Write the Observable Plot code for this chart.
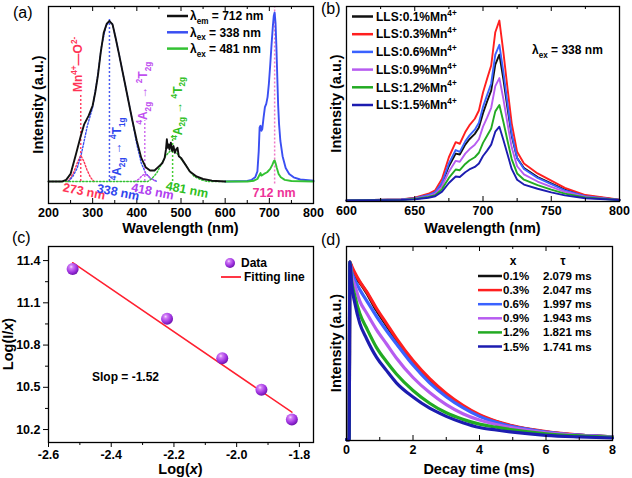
<!DOCTYPE html>
<html><head><meta charset="utf-8">
<script src="https://cdn.jsdelivr.net/npm/d3@7"></script>
<script src="https://cdn.jsdelivr.net/npm/@observablehq/plot@0.6"></script>
<style>
html,body{margin:0;padding:0;background:#fff;}
#root{position:relative;width:632px;height:478px;overflow:hidden;background:#fff;}
#root svg{position:absolute;}
</style></head>
<body><div id="root"></div>
<script>
const FONT = '"Liberation Sans", Arial, Helvetica, sans-serif';

// ===== Panel (a): excitation (black) and emission spectra =====
const excWave = [200,230,240,250,262,273,281,291,300,306,312,318,325,332,338,345,352,360,370,380,390,400,410,420,430,440,450,458,463,466,468,470,472,474,477,480,483,486,489,492,495,500,510,520,535,550,570,600];
const excInt  = [0,0,1,4.5,16,27,34,39,45,53,63,76,88,93.5,95,93,85,75,62,49,36,24,14,8.5,6.5,6.5,9,11,14,19,25,20,22,19,23,18,21,17,19,20,15,14,10,6,3,1.5,0.5,0];
const em338Wave = [600,650,660,668,673,676,678,680,682,684,687,690,693,696,699,702,705,708,710,712,714,716,718,720,722,725,730,737,745,755,770,800];
const em338Int  = [0,0.3,1,2.5,6,18,32,33,30,31,38,44,46,50,58,69,81,92,98,100,94,80,62,45,34,24,15,8,4.5,2.5,1.2,0.5];
const em481Wave = [600,650,665,673,678,680,682,688,695,702,707,710,712,714,717,721,726,735,750,800];
const em481Int  = [0,0,0.5,1.5,4,5,3.5,4.5,5.5,7.5,10,12,12.5,11,8,4.5,2.5,1,0.3,0];
// Gaussian components (dotted)
const g273Wave = [243,250,258,265,273,280,287,295,303];
const g273Int  = [0,2,6,11,15.5,12,7,2.5,0];
const g338Wave = [245,255,265,275,288,300,310,320,330,338,345,352,360,370,380,390,400,410,420,430,446];
const g338Int  = [0,3,8,17,33,44,60,80,92,95,93,85,75,62,49,36,22,11,5,2,0];
const g418Wave = [395,405,412,418,425,433,445];
const g418Int  = [0,1.5,3.5,4.5,3.5,1.5,0];
const g481Wave = [200,425,435,445,455,465,475,481,490,500,510,520,530,545,560,600];
const g481Int  = [0,0,2,5,10,15,18,19,17,13.5,10,6,3,1,0,0];
const peakWave = [273,338,418,481,712];
const peakTop  = [52,96,36,28,103.6];
const peakLabels = ["273 nm","338 nm","418 nm","481 nm","712 nm"];
const aTicks = [200,300,400,500,600,700,800];
const aMinor = [250,350,450,550,650,750];

// ===== Panel (b): emission vs Mn4+ concentration =====
const bWave = [600,640,650,660,665,670,675,680,683,687,690,694,697,700,703,706,709,712,715,718,721,725,730,740,750,760,775,800];
const b01 = [0,0.5,1.1,2.8,4.3,9.5,19,26,25.5,31,34,37,40.5,48.5,55,61,75.5,81,67,51,36,23.5,18,13,9.5,6,2.6,0.3];
const b03 = [0,0.6,1.5,3.7,5.6,12,24,32.4,31.5,38,41.7,45.4,50,60,67.6,75,93.5,100,82,62,43,27,20.5,15,11,7,3,0.4];
const b06 = [0,0.5,1.2,3,4.6,10,20.5,28,27,32.8,36,39.3,43.2,52,58.5,65,81,86.5,71,53.5,37,23.5,17.5,12.5,9,5.6,2.4,0.3];
const b09 = [0,0.4,1,2.4,3.7,8,16,22,21.5,26,28.4,31,34,41,46,51.5,63.5,68,56,42.5,29.5,19,14.5,10.5,7.5,4.8,2,0.3];
const b12 = [0,0.3,0.8,1.9,2.9,6.3,12.5,17.2,16.8,20.3,22.2,24,26.5,32,36,40,49.5,53,43.5,33,23,15,11.5,8.5,6,3.8,1.6,0.2];
const b15 = [0,0.3,0.6,1.5,2.3,4.9,9.7,13.3,13,15.7,17.2,18.6,20.5,24.7,27.7,31,38.2,41,33.5,25.5,17.5,11.5,8.8,6.5,4.5,2.8,1.2,0.2];
const concLabels = ["0.1","0.3","0.6","0.9","1.2","1.5"];
const concColors = ["#111111","#ff1f1f","#3a62ff","#b75cf0","#22aa22","#1c1cb0"];
const bTicks = [600,650,700,750,800];
const bMinor = [625,675,725,775];

// ===== Panel (c): log(I/x) vs log(x) =====
const cLogX = [-2.523,-2.222,-2.046,-1.921,-1.824];
const cLogI = [11.34,10.987,10.707,10.483,10.272];
const fitX = [-2.523,-1.824];
const fitY = [11.385,10.323];
const cXTicks = [-2.6,-2.4,-2.2,-2.0,-1.8];
const cXMinor = [-2.5,-2.3,-2.1,-1.9];
const cYTicks = [10.2,10.5,10.8,11.1,11.4];
const cYMinor = [10.35,10.65,10.95,11.25];

// ===== Panel (d): decay curves =====
const tD = [0,0.08,0.1,0.15,0.25,0.4,0.6,0.9,1.2,1.5,2,2.5,3,3.5,4,4.5,5,6,7,8];
const d01 = [0,0,1,0.97,0.92,0.885,0.83,0.73,0.645,0.56,0.435,0.335,0.253,0.188,0.136,0.10,0.075,0.043,0.025,0.015];
const d03 = [0,0,1,0.98,0.94,0.89,0.835,0.74,0.655,0.57,0.445,0.343,0.26,0.193,0.14,0.104,0.078,0.045,0.026,0.016];
const d06 = [0,0,1,0.95,0.9,0.845,0.785,0.695,0.615,0.54,0.42,0.32,0.242,0.18,0.131,0.097,0.073,0.043,0.025,0.015];
const d09 = [0,0,1,0.93,0.87,0.78,0.715,0.62,0.54,0.46,0.35,0.265,0.197,0.146,0.11,0.085,0.066,0.038,0.024,0.015];
const d12 = [0,0,1,0.9,0.81,0.71,0.63,0.52,0.44,0.37,0.277,0.205,0.151,0.114,0.087,0.07,0.055,0.033,0.021,0.013];
const d15 = [0,0,1,0.88,0.77,0.655,0.57,0.465,0.39,0.32,0.24,0.177,0.131,0.095,0.068,0.054,0.042,0.024,0.015,0.009];
const tauLabels = ["2.079 ms","2.047 ms","1.997 ms","1.943 ms","1.821 ms","1.741 ms"];
const dTicks = [0,2,4,6,8];
const dMinor = [1,3,5,7];

// ---------- helpers ----------
const root = document.getElementById("root");
const rows = (xs, ys) => xs.map((x, i) => ({x, y: ys[i]}));
const baseStyle = {fontFamily: FONT, fontSize: "12.5px", fontWeight: "bold", background: "transparent", overflow: "visible", color: "#000"};
function place(svg, left, top) { svg.style.left = left + "px"; svg.style.top = top + "px"; root.appendChild(svg); return svg; }
function rich(svg, x, y, parts, o = {}) {
  const size = o.size || 12;
  const t = d3.select(svg).append("text")
    .attr("transform", `translate(${x},${y}) rotate(${o.rotate || 0})`)
    .attr("text-anchor", o.anchor || "start")
    .attr("font-family", FONT).attr("font-size", size)
    .attr("font-weight", o.weight || "bold")
    .attr("fill", o.fill || "#000")
    .attr("y", size * 0.35);
  let cur = 0;
  for (const p of parts) {
    const [s, kind, st] = typeof p === "string" ? [p, ""] : p;
    const target = kind === "sub" ? size * 0.32 : kind === "sup" ? -size * 0.42 : 0;
    const ts = t.append("tspan").text(s).attr("dy", target - cur);
    if (kind) ts.attr("font-size", size * 0.68);
    if (st === "i") ts.attr("font-style", "italic");
    cur = target;
  }
  return t;
}
function legendLine(svg, x1, x2, y, color, w = 2.5) {
  d3.select(svg).append("line").attr("x1", x1).attr("x2", x2).attr("y1", y).attr("y2", y)
    .attr("stroke", color).attr("stroke-width", w);
}
const W = 316;

// ---------- Panel (a) ----------
{
  const H = 240, m = {t: 6, r: 3, b: 37, l: 48}, fh = H - m.t - m.b;
  const dot = "1.6,1.8";
  const comps = [[g273Wave, g273Int, "#ff3355"], [g338Wave, g338Int, "#3a4ff2"], [g418Wave, g418Int, "#c050f0"], [g481Wave, g481Int, "#33c233"]];
  const peakCol = ["#ff4466", "#4a5cf0", "#d070f0", "#44cc33", "#f078c8"];
  const p = Plot.plot({
    width: W, height: H, marginTop: m.t, marginRight: m.r, marginBottom: m.b, marginLeft: m.l,
    x: {domain: [200, 800], axis: null}, y: {domain: [-13, 103.6], axis: null},
    style: baseStyle,
    marks: [
      ...comps.map(([w, v, c]) => Plot.line(rows(w, v), {x: "x", y: "y", stroke: c, strokeWidth: 1.4, strokeDasharray: dot})),
      ...peakWave.map((w, i) => Plot.ruleX([w], {y1: i === 4 ? -1.5 : 0, y2: peakTop[i], stroke: peakCol[i], strokeWidth: 1.5, strokeDasharray: "2,2"})),
      Plot.line(rows(em338Wave, em338Int), {x: "x", y: "y", stroke: "#3a4ff2", strokeWidth: 1.9}),
      Plot.line(rows(em481Wave, em481Int), {x: "x", y: "y", stroke: "#33c233", strokeWidth: 1.9}),
      Plot.line(rows(excWave, excInt), {x: "x", y: "y", stroke: "#111", strokeWidth: 1.9}),
      Plot.ruleX(aTicks, {insetTop: fh - 5}), Plot.ruleX(aMinor, {insetTop: fh - 3}),
      Plot.ruleX(aTicks, {insetBottom: fh - 5}), Plot.ruleX(aMinor, {insetBottom: fh - 3}),
      Plot.axisX({ticks: aTicks, tickSize: 0, tickPadding: 5, label: null, tickFormat: d => String(d)}),
      Plot.frame({stroke: "#000", strokeWidth: 1.3})
    ]
  });
  place(p, 0, 0);
  const sx = p.scale("x").apply, sy = p.scale("y").apply;
  const labCol = ["#ff3355", "#2f46ee", "#b040f0", "#2fbf22", "#ee3399"];
  const labPos = [[282, -6], [359, -6.5], [437, -6], [515, -5], [712, -7]];
  peakLabels.forEach((s, i) => rich(p, sx(labPos[i][0]), sy(labPos[i][1]), [s], {fill: labCol[i], anchor: "middle", rotate: i === 4 ? 0 : 11, size: 12.5}));
  rich(p, sx(268.5), sy(69), ["Mn", ["4+", "sup"], "—O", ["2-", "sup"]], {fill: "#ff3355", anchor: "middle", rotate: -90, size: 12});
  rich(p, sx(356), sy(19), [["4", "sup"], "A", ["2g", "sub"], " → ", ["4", "sup"], "T", ["1g", "sub"]], {fill: "#2f46ee", anchor: "middle", rotate: -90, size: 12});
  rich(p, sx(414), sy(52), [["4", "sup"], "A", ["2g", "sub"], " → ", ["2", "sup"], "T", ["2g", "sub"]], {fill: "#c050f0", anchor: "middle", rotate: -90, size: 12});
  rich(p, sx(493), sy(43), [["4", "sup"], "A", ["2g", "sub"], " → ", ["4", "sup"], "T", ["2g", "sub"]], {fill: "#2fbf22", anchor: "middle", rotate: -90, size: 12});
  const leg = [["#111", "em", "712"], ["#3a4ff2", "ex", "338"], ["#33c233", "ex", "481"]];
  leg.forEach(([c, sub, v], i) => {
    const y = 16 + i * 16.3;
    legendLine(p, 167, 188, y, c);
    rich(p, 190, y, ["λ", [sub, "sub"], ` = ${v} nm`], {size: 12});
  });
  rich(p, m.l + (W - m.l - m.r) / 2, H - m.b + 25, ["Wavelength (nm)"], {anchor: "middle", size: 14.5});
  rich(p, m.l - 10, m.t + fh / 2, ["Intensity (a.u.)"], {anchor: "middle", rotate: -90, size: 14.5});
}

// ---------- Panel (b) ----------
{
  const H = 240, m = {t: 6, r: 13, b: 39, l: 30}, fh = H - m.t - m.b;
  const series = [b01, b03, b06, b09, b12, b15];
  const p = Plot.plot({
    width: W, height: H, marginTop: m.t, marginRight: m.r, marginBottom: m.b, marginLeft: m.l,
    x: {domain: [600, 800], axis: null}, y: {domain: [-0.6, 107.8], axis: null},
    style: baseStyle,
    marks: [
      ...series.map((s, i) => Plot.line(rows(bWave, s), {x: "x", y: "y", stroke: concColors[i], strokeWidth: 1.9})),
      Plot.ruleX(bTicks, {insetTop: fh - 5}), Plot.ruleX(bMinor, {insetTop: fh - 3}),
      Plot.ruleX(bTicks, {insetBottom: fh - 5}), Plot.ruleX(bMinor, {insetBottom: fh - 3}),
      Plot.axisX({ticks: bTicks, tickSize: 0, tickPadding: 5, label: null, tickFormat: d => String(d)}),
      Plot.frame({stroke: "#000", strokeWidth: 1.3})
    ]
  });
  place(p, W, 0);
  concLabels.forEach((c, i) => {
    const y = 16.5 + i * 17.7;
    legendLine(p, 36, 57, y, concColors[i]);
    rich(p, 60, y, [`LLS:${c}%Mn`, ["4+", "sup"]], {size: 12});
  });
  rich(p, 216, 50, ["λ", ["ex", "sub"], " = 338 nm"], {size: 12});
  rich(p, m.l + (W - m.l - m.r) / 2, H - m.b + 27, ["Wavelength (nm)"], {anchor: "middle", size: 14.5});
  rich(p, m.l - 10, m.t + fh / 2, ["Intensity (a.u.)"], {anchor: "middle", rotate: -90, size: 14.5});
}

// ---------- Panel (c) ----------
{
  const H = 238, m = {t: 6, r: 3, b: 36, l: 48}, fh = H - m.t - m.b;
  const p = Plot.plot({
    width: W, height: H, marginTop: m.t, marginRight: m.r, marginBottom: m.b, marginLeft: m.l,
    x: {domain: [-2.6, -1.755], axis: null}, y: {domain: [10.108, 11.5], axis: null},
    style: baseStyle,
    marks: [
      Plot.line(rows(fitX, fitY), {x: "x", y: "y", stroke: "#ff2030", strokeWidth: 1.5}),
      Plot.dot(rows(cLogX, cLogI), {x: "x", y: "y", r: 6, fill: "#a040e0"}),
      Plot.axisX({ticks: cXTicks, tickSize: 5, tickPadding: 3, label: null, tickFormat: d => d.toFixed(1)}),
      Plot.axisX({ticks: cXMinor, tickSize: 3, label: null, tickFormat: () => ""}),
      Plot.axisY({ticks: cYTicks, tickSize: 5, tickPadding: 3, label: null, tickFormat: d => d.toFixed(1)}),
      Plot.axisY({ticks: cYMinor, tickSize: 3, label: null, tickFormat: () => ""}),
      Plot.frame({stroke: "#000", strokeWidth: 1.3})
    ]
  });
  place(p, 0, 240);
  const defs = d3.select(p).insert("defs", ":first-child");
  const g = defs.append("radialGradient").attr("id", "sph").attr("cx", "38%").attr("cy", "32%").attr("r", "68%");
  [["0%", "#f6dcff"], ["22%", "#d07cf5"], ["65%", "#a236e2"], ["100%", "#7014b0"]].forEach(([o, c]) => g.append("stop").attr("offset", o).attr("stop-color", c));
  d3.select(p).selectAll("circle").attr("fill", "url(#sph)");
  d3.select(p).append("circle").attr("cx", 230).attr("cy", 23).attr("r", 5).attr("fill", "url(#sph)");
  rich(p, 241, 23, ["Data"], {size: 12});
  legendLine(p, 221, 241, 37, "#ff2030", 1.8);
  rich(p, 244, 37, ["Fitting line"], {size: 12});
  rich(p, 92, 137, ["Slop = -1.52"], {size: 12});
  rich(p, m.l + (W - m.l - m.r) / 2, H - m.b + 27, ["Log(", ["x", "", "i"], ")"], {anchor: "middle", size: 14.5});
  rich(p, 8, m.t + fh / 2, ["Log(I/", ["x", "", "i"], ")"], {anchor: "middle", rotate: -90, size: 14.5});
}

// ---------- Panel (d) ----------
{
  const H = 238, m = {t: 6, r: 20, b: 38, l: 30}, fh = H - m.t - m.b;
  const series = [d01, d03, d06, d09, d12, d15];
  const p = Plot.plot({
    width: W, height: H, marginTop: m.t, marginRight: m.r, marginBottom: m.b, marginLeft: m.l,
    x: {domain: [0, 8], axis: null}, y: {domain: [-0.005, 1.088], axis: null},
    style: baseStyle,
    marks: [
      ...series.map((s, i) => Plot.line(rows(tD, s), {x: "x", y: "y", stroke: concColors[i], strokeWidth: 3.2, curve: "monotone-x"})),
      Plot.ruleX(dTicks, {insetTop: fh - 5}), Plot.ruleX(dMinor, {insetTop: fh - 3}),
      Plot.ruleX(dTicks, {insetBottom: fh - 5}), Plot.ruleX(dMinor, {insetBottom: fh - 3}),
      Plot.axisX({ticks: dTicks, tickSize: 0, tickPadding: 5, label: null, tickFormat: d => String(d)}),
      Plot.frame({stroke: "#000", strokeWidth: 1.3})
    ]
  });
  place(p, W, 240);
  rich(p, 197, 21, ["x"], {anchor: "middle", size: 12});
  rich(p, 247, 21, ["τ"], {anchor: "middle", size: 12});
  concLabels.forEach((c, i) => {
    const y = 36 + i * 14.1;
    legendLine(p, 162, 186, y, concColors[i]);
    rich(p, 187, y, [`${c}%`], {size: 11.5});
    rich(p, 227, y, [tauLabels[i]], {size: 11.5});
  });
  rich(p, m.l + (W - m.l - m.r) / 2, H - m.b + 29, ["Decay time (ms)"], {anchor: "middle", size: 14.5});
  rich(p, m.l - 10, m.t + fh / 2, ["Intensity (a.u.)"], {anchor: "middle", rotate: -90, size: 14.5});
}

// ---------- panel letters ----------
{
  const ov = d3.select(root).append("svg").attr("width", 632).attr("height", 478)
    .style("left", "0px").style("top", "0px").style("pointer-events", "none");
  [["(a)", 13, 18], ["(b)", 321, 14], ["(c)", 12, 243], ["(d)", 321, 245]].forEach(([s, x, y]) =>
    ov.append("text").attr("x", x).attr("y", y).attr("font-family", FONT).attr("font-size", 16).text(s));
}
</script></body></html>
